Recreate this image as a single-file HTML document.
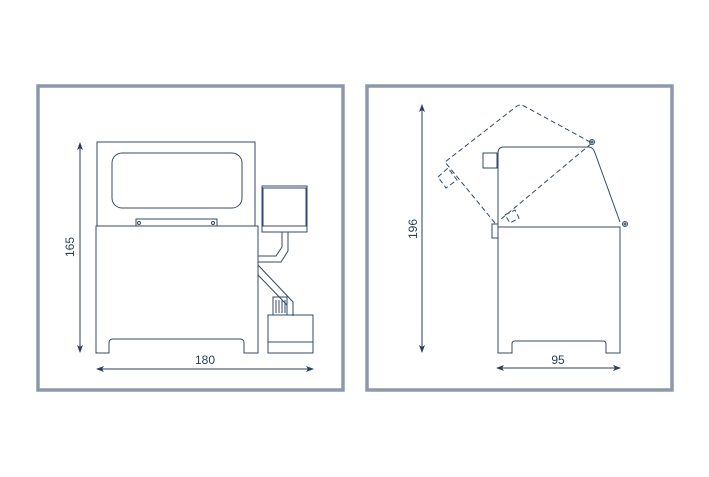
<!DOCTYPE html>
<html><head><meta charset="utf-8"><style>
html,body{margin:0;padding:0;background:#fff;}
svg{display:block;}
text{font-family:"Liberation Sans",sans-serif;font-size:12px;fill:#2a3e58;}
</style></head><body>
<svg width="709" height="477" viewBox="0 0 709 477" xmlns="http://www.w3.org/2000/svg">
<defs>
<marker id="ar" markerWidth="8" markerHeight="6" refX="7" refY="3" orient="auto-start-reverse" markerUnits="userSpaceOnUse">
<path d="M0,0 L8,3 L0,6 L2,3 Z" fill="#2a3e58"/></marker>
</defs>
<rect x="38" y="86" width="305" height="304" fill="#fff" stroke="#8d98ad" stroke-width="3.5"/>
<rect x="367" y="86" width="305" height="304" fill="#fff" stroke="#8d98ad" stroke-width="3.5"/>
<g fill="none" stroke="#34496a" stroke-width="1">
<rect x="97" y="142" width="158" height="84"/>
<rect x="112" y="153" width="130" height="55" rx="10"/>
<rect x="136" y="219" width="81" height="7"/>
<circle cx="139" cy="223" r="1.5"/><circle cx="213" cy="223" r="1.5"/>
<path d="M96,226 H258 V353 H244 V343 Q244,339 240,339 H113 Q109,339 109,343 V353 H96 Z"/>
<rect x="262" y="186" width="45" height="46"/>
<path d="M263,188 H306 V226 H263 Z"/>
<path d="M282,232 V247 L276,256 H258 M288,232 V251 L281,262 H258"/>
<path d="M258,265 L293,302 V316 M258,275 L287,305"/>
<rect x="273" y="297" width="14" height="18"/>
<path d="M276,300 V313 M279,300 V313 M282,300 V313 M285,300 V313"/>
<rect x="268" y="315" width="45" height="38"/>
<path d="M268,342 H313"/>
<path d="M498,227 H620 V353 H606 V344 Q606,341 603,341 H515 Q512,341 512,344 V353 H498 Z"/>
<path d="M498,227 V153 Q498,147 504,147 H589 Q593,147 595,153 L620,222"/>
<rect x="483" y="153" width="14" height="15"/>
<rect x="492" y="224" width="6" height="14"/>
<circle cx="592" cy="142" r="2.5"/><circle cx="592" cy="142" r="1"/>
<circle cx="625" cy="224" r="2.5"/><circle cx="625" cy="224" r="1"/>
<g stroke-dasharray="5,3">
<path d="M495,223 L445,162 L517,106 Q520,104 524,106 L592,143 L500,220"/>
<path d="M438,177 L448,168 L457,180 L446,188 Z"/>
<path d="M505,215 L515,210 L519,218 L510,223 Z"/>
</g>
</g>
<g stroke="#2a3e58" stroke-width="1">
<line x1="80" y1="143" x2="80" y2="352" marker-start="url(#ar)" marker-end="url(#ar)"/>
<line x1="97" y1="369" x2="313" y2="369" marker-start="url(#ar)" marker-end="url(#ar)"/>
<line x1="422" y1="105" x2="422" y2="352" marker-start="url(#ar)" marker-end="url(#ar)"/>
<line x1="497" y1="368" x2="620" y2="368" marker-start="url(#ar)" marker-end="url(#ar)"/>
</g>
<text x="205" y="364" text-anchor="middle">180</text>
<text x="558" y="364" text-anchor="middle">95</text>
<text transform="translate(74,247) rotate(-90)" text-anchor="middle">165</text>
<text transform="translate(417,229) rotate(-90)" text-anchor="middle">196</text>
</svg>
</body></html>
